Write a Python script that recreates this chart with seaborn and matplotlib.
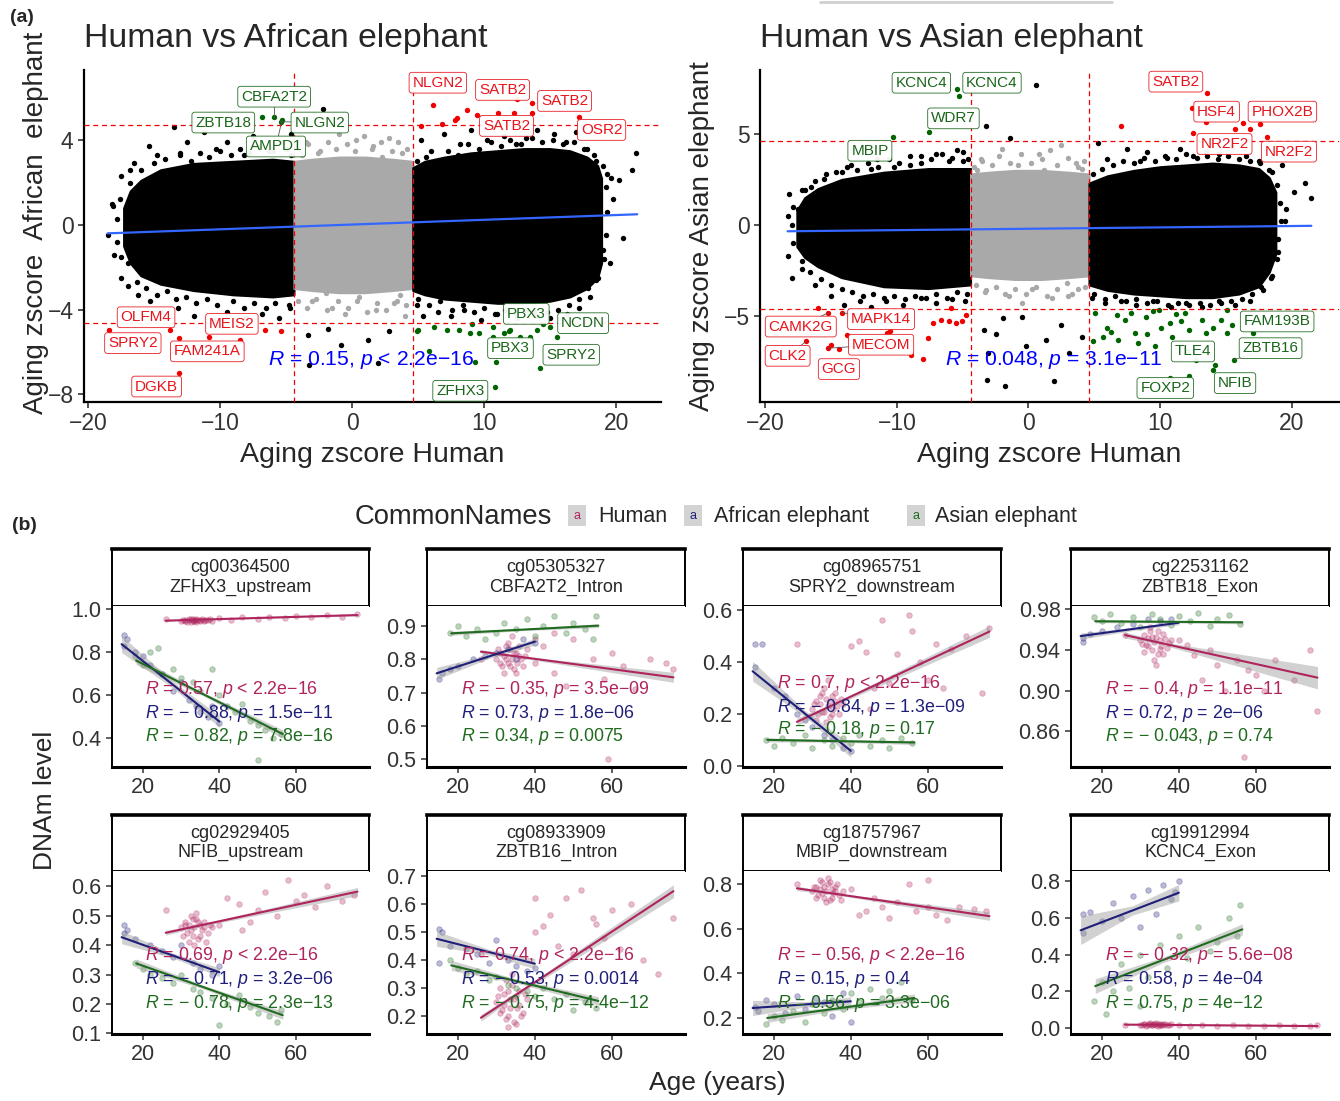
import matplotlib
matplotlib.use("Agg")
import matplotlib.pyplot as plt
import seaborn as sns
import numpy as np
from matplotlib.patches import Rectangle
from matplotlib.lines import Line2D

sns.set_theme(style="ticks")
plt.rcParams['font.family'] = ['Liberation Sans', 'DejaVu Sans']
plt.rcParams['mathtext.fontset'] = 'custom'
plt.rcParams['mathtext.rm'] = 'Liberation Sans'
plt.rcParams['mathtext.it'] = 'Liberation Sans:italic'
plt.rcParams['axes.unicode_minus'] = True

# ---------------- DATA: panel (a) ----------------
# dense clouds (envelopes of the solid regions)
af_left_x = [-17.3, -16.8, -16, -14.5, -12, -9, -6, -4.4]
af_left_hi = [0.8, 1.6, 2.1, 2.6, 2.9, 3.0, 3.1, 3.0]
af_left_lo = [-1.0, -1.8, -2.4, -2.8, -3.1, -3.3, -3.4, -3.3]
af_mid_x = [-4.4, -3, -1, 1, 3, 4.6]
af_mid_hi = [3.0, 3.1, 3.2, 3.2, 3.1, 3.0]
af_mid_lo = [-3.0, -3.1, -3.2, -3.2, -3.1, -3.0]
af_right_x = [4.6, 5.5, 7, 9, 11, 13, 15, 16.5, 17.8, 18.6, 18.9]
af_right_hi = [2.7, 3.0, 3.2, 3.4, 3.5, 3.6, 3.6, 3.5, 3.2, 2.8, 2.2]
af_right_lo = [-3.1, -3.3, -3.5, -3.6, -3.7, -3.7, -3.6, -3.4, -3.0, -2.5, -1.8]

af_black_x = [-15.4, -14.8, -13.5, -12.5, -11.2, -10.3, -9.5, -8.2, -7.5, -6.3, -5.2, -4.6, -17.5, -16.8,
              -18.2, -18.5, -18.0, -17.5, -16.2, -15.3, -14.5, -13.2, -12.0, -10.5, -9.5, -8.0, -6.8, -5.5,
              -4.7, -2.2, -3.3, -1.8, -0.8, 1.2, 2.8, 2.0, -3.25,
              5.2, 6.0, 7.0, 8.2, 9.0, 10.2, 11.5, 12.4, 13.2, 14.0, 15.3, 16.2, 17.0, 17.8, 18.5, 19.3,
              20.2, 21.5, 21.2, 19.8, 20.5, 19.0, 18.6, 18.0, 17.2, 16.3, 15.0, 13.8, 12.5, 11.0, 9.8,
              8.5, 7.5, 6.5, 5.4, 4.9, -16.5, -13.0, -17.0, 18.8, 19.5]
af_black_y = [3.7, 3.3, 4.6, 3.9, 4.4, 3.6, 3.9, 3.3, 4.2, 3.5, 3.9, 4.3, 2.3, 2.6,
              1.0, -0.5, -1.4, -2.5, -3.3, -3.6, -4.1, -3.9, -4.3, -4.5, -4.1, -4.4, -4.2, -4.4,
              -3.9, 5.45, -5.2, -4.9, -5.66, -5.42, -5.03, -6.5, -6.6,
              4.0, 3.5, 4.3, 3.8, 4.5, 4.0, 4.2, 3.8, 4.1, 4.5, 4.3, 3.9, 4.4, 3.6, 3.0, 2.4,
              2.1, 3.4, 2.6, 1.2, -0.6, -1.2, -2.5, -3.4, -3.9, -4.2, -4.4, -4.1, -4.4, -4.2, -4.5,
              -4.0, -4.3, -4.1, -4.3, -3.8, 2.9, 3.4, -2.9, 0.5, -1.8]
af_edge_x = [-16.8, -16.0, -15.0, -14.2, -13.0, -12.2, -11.5, -10.8, -10.0, -9.2, -8.5, -7.8, -7.0, -6.0, -5.0,
             -4.6, -17.0, -16.3, -15.6, -14.8, -14.0, -13.3, -12.6, -11.8, -11.0, -10.2, -9.0, -8.2, -7.4,
             -6.5, -5.8, -4.8, -17.6, -17.8, -17.8, -17.5, -18.1,
             4.9, 5.6, 6.5, 7.3, 8.0, 8.8, 9.6, 10.5, 11.3, 12.0, 12.8, 13.6, 14.4, 15.2, 16.0, 16.8, 17.6,
             18.3, 5.0, 5.8, 6.7, 7.6, 8.4, 9.2, 10.0, 10.8, 11.6, 12.4, 13.2, 14.0, 14.8, 15.6, 16.4, 17.2,
             17.9, 18.5, 19.0, 19.2, 19.3, 19.2, 19.1, 19.6]
af_edge_y = [2.0, 2.6, 2.9, 3.1, 3.3, 3.0, 3.4, 3.2, 3.5, 3.3, 3.6, 3.4, 3.7, 3.5, 3.6,
             3.3, -1.8, -2.7, -3.0, -3.3, -3.1, -3.5, -3.4, -3.7, -3.5, -3.8, -3.6, -3.9, -3.7,
             -3.9, -3.7, -3.8, 1.2, 0.3, -0.8, -1.5, 0.9,
             3.0, 3.2, 3.0, 3.5, 3.3, 3.8, 3.6, 3.9, 3.7, 4.0, 3.8, 4.1, 3.9, 4.0, 3.8, 3.9, 3.6,
             3.3, -3.5, -3.8, -3.6, -4.0, -3.8, -4.1, -3.9, -4.2, -4.0, -4.2, -4.0, -4.3, -4.1, -4.0, -3.8,
             -3.5, -3.0, -2.6, 2.8, 1.8, 0.6, -0.5, -1.6, 2.2]
af_gray_x = [-3.5, -2.4, -1.0, 0.3, 1.5, 2.8, 3.8, -3.0, -1.5, 0.5, 1.8, 3.2, 4.0, -0.5, 2.3, -2.0, -3.8, 3.6,
             -4.0, -3.3, -2.6, -1.8, -1.2, -0.4, 0.2, 0.9, 1.6, 2.2, 3.0, 3.5, 4.2,
             -4.1, -3.4, -2.7, -1.9, -1.1, -0.3, 0.4, 1.1, 1.9, 2.6, 3.4, 4.1]
af_gray_y = [3.9, 3.5, 4.3, 4.0, 3.6, 4.1, 3.4, -3.6, -3.9, -3.4, -4.0, -3.7, -4.3, -4.2, 3.2, -3.2, 3.3, -3.3,
             3.5, 3.8, 3.4, 3.9, 3.6, 3.8, 3.5, 4.2, 3.7, 3.9, 3.5, 3.9, 3.6,
             -3.6, -3.9, -3.5, -4.0, -3.6, -3.9, -3.6, -4.1, -3.7, -4.0, -3.6, -3.8]
af_red_x = [6.1, 5.2, 6.8, 7.8, 7.97, 8.7, 9.5, 11.05, 12.3, 12.5, 13.6, 13.6, 17.2,
            -18.4, -13.8, -13.1, -10.8, -8.5, -6.6, -5.4, -13.1]
af_red_y = [5.64, 4.69, 4.76, 4.95, 5.03, 5.42, 5.19, 5.27, 5.27, 5.93, 5.74, 5.27, 5.11,
            -4.95, -4.95, -5.35, -5.27, -5.42, -4.95, -5.03, -7.0]
af_green_x = [-6.8, -5.9, -5.4, -5.3,
              4.9, 5.0, 6.2, 7.2, 8.1, 8.9, 9.1, 9.6, 10.7, 10.7, 11.5, 11.9, 12.0, 12.7, 13.5, 14.0,
              14.5, 15.0, 15.5, 5.85, 9.3, 10.9, 14.2, 10.8]
af_green_y = [5.11, 5.11, 4.87, 4.95,
              -5.03, -4.95, -4.8, -4.95, -4.95, -5.1, -4.7, -5.1, -4.8, -5.27, -5.1, -5.03, -4.95, -5.27,
              -5.27, -4.95, -4.7, -4.8, -5.27, -5.97, -6.45, -6.45, -6.76, -7.67]
af_label_names = ["NLGN2", "SATB2", "SATB2", "SATB2", "OSR2", "CBFA2T2", "ZBTB18", "NLGN2", "AMPD1",
                  "OLFM4", "SPRY2", "MEIS2", "FAM241A", "DGKB", "PBX3", "NCDN", "PBX3", "SPRY2", "ZFHX3"]
af_label_x = [6.5, 11.4, 16.1, 11.7, 18.9, -5.9, -9.75, -2.44, -5.76, -15.6, -16.6, -9.1, -10.96, -14.8,
              13.2, 17.5, 12.0, 16.6, 8.2]
af_label_y = [6.71, 6.37, 5.85, 4.67, 4.48, 6.05, 4.83, 4.83, 3.7, -4.36, -5.58, -4.67, -5.97, -7.63,
              -4.2, -4.64, -5.82, -6.13, -7.83]
af_label_kind = ["up"] * 5 + ["down"] * 4 + ["up"] * 5 + ["down"] * 5
af_seg = [(-5.76, 3.7, -5.3, 4.95), (-5.9, 6.05, -5.9, 5.11), (-2.44, 4.83, -5.4, 4.87)]
af_fit_x = [-18.5, 21.6]
af_fit_y = [-0.40, 0.50]
af_stat = "$\\mathit{R}$ = 0.15, $\\mathit{p}$ < 2.2e\u221216"

as_left_x = [-17.6, -17, -16, -14.2, -11, -7.6, -4.4]
as_left_hi = [0.8, 1.5, 2.0, 2.5, 2.9, 3.1, 3.1]
as_left_lo = [-1.2, -1.8, -2.3, -2.9, -3.4, -3.5, -3.3]
as_mid_x = [-4.4, -3, -1, 1, 3, 4.6]
as_mid_hi = [2.8, 2.9, 3.0, 3.0, 2.9, 2.8]
as_mid_lo = [-2.8, -2.9, -3.0, -3.0, -2.9, -2.8]
as_right_x = [4.6, 6, 8, 10, 12, 14, 16, 17.5, 18.3, 18.8]
as_right_hi = [2.3, 2.7, 3.0, 3.2, 3.3, 3.4, 3.3, 3.1, 2.6, 1.8]
as_right_lo = [-3.3, -3.6, -3.8, -3.9, -4.0, -4.0, -3.8, -3.4, -2.6, -1.6]
as_black_x = [-15.5, -14.2, -13.5, -12, -11.5, -10.2, -9.0, -8.2, -7.0, -6.0, -5.0, -4.6, -17.2, -18.2,
              -18.3, -18.0, -17.2, -16.2, -15.0, -14.0, -12.8, -12.0, -10.8, -9.5, -8.2, -7.0, -5.8, -4.8,
              -16.5, -0.5, -1.95, -3.4, -3.16, -1.8, 1.95, -0.16, 1.3, 3.1, -3.1, 4.07, 0.55, -3.26, -1.4,
              -5.4, 2.5, -2.5,
              5.3, 6.0, 7.5, 8.5, 9.0, 10.5, 11.5, 12.5, 13.5, 14.5, 15.5, 16.5, 17.5, 18.5, 19.3, 20.2,
              21.0, 21.5, 19.5, 19.0, 18.5, 17.8, 16.8, 15.7, 14.5, 13.2, 12.0, 10.8, 9.5, 8.2, 7.0, 5.8,
              4.8, 18.8, -17.5]
as_black_y = [2.5, 2.9, 3.3, 3.1, 3.6, 3.2, 3.8, 3.4, 3.9, 3.5, 4.0, 3.6, 1.9, 1.7,
              -1.7, -2.9, -2.4, -3.3, -3.9, -4.4, -4.2, -4.5, -4.2, -4.4, -4.0, -4.3, -4.1, -4.2,
              2.1, -5.04, -5.13, -5.77, -8.52, -8.88, -8.61, -6.68, -6.32, -7.05, -7.05, -6.14, 7.69, 5.44,
              4.76, 4.1, -5.5, -6.0,
              4.5, 3.6, 4.2, 3.5, 4.0, 3.7, 4.2, 3.8, 4.0, 3.9, 4.3, 3.8, 3.5, 2.9, 3.3, 1.8,
              2.3, 1.5, 0.2, -1.5, -2.8, -3.6, -4.2, -4.4, -4.2, -4.5, -4.3, -4.5, -4.2, -4.4, -4.2, -4.3,
              -4.0, -0.8, 0.9]
as_edge_x = [-17.0, -16.2, -15.4, -14.6, -13.8, -13.0, -12.2, -11.4, -10.6, -9.8, -9.0, -8.2, -7.4, -6.6, -5.8,
             -5.0, -17.2, -16.6, -15.8, -15.0, -14.2, -13.4, -12.6, -11.8, -11.0, -10.2, -9.4, -8.6, -7.8,
             -7.0, -6.2, -5.4, -4.7, -17.9, -18.0, -17.9, -18.3,
             4.9, 5.6, 6.4, 7.2, 8.0, 8.8, 9.6, 10.4, 11.2, 12.0, 12.8, 13.6, 14.4, 15.2, 16.0, 16.8, 17.6,
             18.3, 5.0, 5.8, 6.6, 7.4, 8.2, 9.0, 9.8, 10.6, 11.4, 12.2, 13.0, 13.8, 14.6, 15.4, 16.2, 17.0,
             17.7, 18.4, 18.9, 19.1, 19.2, 19.0, 18.9, 19.6]
as_edge_y = [1.9, 2.4, 2.8, 2.9, 3.2, 3.0, 3.4, 3.2, 3.6, 3.4, 3.3, 3.8, 3.6, 3.9, 3.7,
             3.5, -2.0, -2.6, -3.0, -3.3, -3.5, -3.7, -3.9, -3.8, -4.0, -3.9, -4.1, -3.9, -4.0,
             -3.8, -4.0, -3.7, -3.8, 1.0, 0.0, -1.0, 0.5,
             2.8, 3.1, 3.3, 3.5, 3.4, 3.7, 3.5, 3.8, 3.6, 3.9, 3.7, 3.8, 3.6, 3.8, 3.6, 3.5, 3.4,
             3.0, -3.8, -4.1, -3.9, -4.2, -4.1, -4.3, -4.2, -4.4, -4.3, -4.4, -4.3, -4.4, -4.3, -4.2, -4.1,
             -3.8, -3.4, -2.9, 2.2, 1.2, 0.2, -0.8, -1.9, 0.9]
as_gray_x = [-3.5, -2.0, -0.8, 0.8, 2.5, 3.8, -3.2, -1.5, 0.3, 1.8, 3.3, -0.5, 1.2, 2.9, -3.9, 4.1,
             -4.1, -3.6, -2.8, -2.2, -1.4, -0.6, 0.2, 1.0, 1.6, 2.2, 3.0, 3.6, 4.2,
             -4.0, -3.3, -2.5, -1.8, -1.0, -0.2, 0.6, 1.4, 2.2, 3.0, 3.8, 4.3]
as_gray_y = [3.5, 4.2, 3.3, 3.9, 4.4, 3.2, -3.6, -3.9, -3.5, -4.0, -3.8, -4.3, 3.0, -3.2, 3.0, 3.1,
             3.2, 3.6, 3.3, 3.8, 3.4, 3.9, 3.4, 3.6, 4.1, 3.3, 3.7, 3.4, 3.5,
             -3.3, -3.7, -3.4, -3.8, -3.5, -3.8, -3.4, -3.9, -3.5, -3.9, -3.5, -3.4]
as_red_x = [7.07, 12.5, 12.4, 13.6, 13.5, 15.7, 16.3, 16.8, 17.6, 18.1,
            -15.2, -14.2, -16.0, -16.9, -15.2, -14.4, -13.8, -10.75, -10.5, -8.96, -7.98, -7.65, -7.26,
            -6.68, -6.03, -5.54, -5.05, -4.72, -5.9, -15.0]
as_red_y = [5.44, 5.07, 6.41, 7.27, 5.68, 5.26, 5.59, 5.26, 5.55, 4.85,
            -4.82, -4.82, -4.58, -6.41, -6.78, -6.83, -6.04, -5.92, -5.86, -7.14, -7.38, -6.23, -5.40,
            -5.22, -5.31, -5.40, -5.31, -4.95, -4.58, -6.6]
as_green_x = [-5.44, -5.31, -7.56, -10.3,
              5.05, 4.9, 5.7, 6.0, 6.7, 6.8, 7.3, 7.8, 8.1, 8.3, 8.96, 9.45, 9.6, 9.9, 10.1, 10.75, 10.9,
              11.6, 11.9, 12.05, 12.2, 12.7, 12.2, 13.2, 13.5, 14.0, 14.2, 14.0, 14.65, 15.1, 15.5, 15.6,
              17.1, 15.1, 10.75, 6.3, 9.0, 11.2]
as_green_y = [7.45, 7.09, 5.09, 4.82,
              -4.85, -6.41, -6.14, -5.68, -4.95, -6.32, -5.22, -4.85, -5.95, -6.5, -5.04, -4.76, -6.68,
              -4.7, -5.68, -5.40, -6.14, -5.31, -4.85, -6.96, -5.77, -7.42, -8.3, -5.22, -5.95, -5.68,
              -7.69, -7.97, -5.22, -4.67, -5.49, -7.42, -5.95, -5.95, -8.42, -5.9, -6.0, -4.9]
as_label_names = ["SATB2", "HSF4", "PHOX2B", "NR2F2", "NR2F2", "KCNC4", "KCNC4", "WDR7", "MBIP",
                  "CAMK2G", "MAPK14", "CLK2", "MECOM", "GCG", "FAM193B", "ZBTB16", "TLE4", "FOXP2", "NFIB"]
as_label_x = [11.2, 14.3, 19.3, 14.9, 19.8, -8.14, -2.77, -5.7, -12.05, -17.3, -11.2, -18.3, -11.2, -14.4,
              18.9, 18.4, 12.5, 10.4, 15.7]
as_label_y = [7.88, 6.23, 6.23, 4.45, 4.03, 7.82, 7.82, 5.86, 4.08, -5.59, -5.18, -7.2, -6.59, -7.93,
              -5.31, -6.78, -6.96, -8.97, -8.7]
as_label_kind = ["up"] * 5 + ["down"] * 4 + ["up"] * 5 + ["down"] * 5
as_seg = [(-18.3, -7.2, -16.9, -6.41), (-11.2, -6.59, -15.2, -6.78), (-11.2, -5.18, -14.2, -4.82),
          (-17.3, -5.59, -15.2, -4.82), (18.4, -6.78, 15.6, -7.42), (12.5, -6.96, 12.7, -7.42)]
as_fit_x = [-18.3, 21.5]
as_fit_y = [-0.35, -0.05]
as_stat = "$\\mathit{R}$ = 0.048, $\\mathit{p}$ = 3.1e\u221211"

# ---------------- DATA: panel (b) ----------------
species = ["Human", "African elephant", "Asian elephant"]
species_colors = ["#B0245E", "#1F1F7A", "#1F6B1F"]
facet_titles = ["cg00364500\nZFHX3_upstream", "cg05305327\nCBFA2T2_Intron", "cg08965751\nSPRY2_downstream",
                "cg22531162\nZBTB18_Exon", "cg02929405\nNFIB_upstream", "cg08933909\nZBTB16_Intron",
                "cg18757967\nMBIP_downstream", "cg19912994\nKCNC4_Exon"]
facet_ylims = [(0.267, 1.014), (0.477, 0.96), (-0.002, 0.615), (0.825, 0.983),
               (0.098, 0.652), (0.136, 0.718), (0.127, 0.86), (-0.031, 0.854)]
facet_yticks = [[0.4, 0.6, 0.8, 1.0], [0.5, 0.6, 0.7, 0.8, 0.9], [0.0, 0.2, 0.4, 0.6], [0.86, 0.90, 0.94, 0.98],
                [0.1, 0.2, 0.3, 0.4, 0.5, 0.6], [0.2, 0.3, 0.4, 0.5, 0.6, 0.7], [0.2, 0.4, 0.6, 0.8],
                [0.0, 0.2, 0.4, 0.6, 0.8]]
facet_ytick_labels = [["0.4", "0.6", "0.8", "1.0"], ["0.5", "0.6", "0.7", "0.8", "0.9"], ["0.0", "0.2", "0.4", "0.6"],
                      ["0.86", "0.90", "0.94", "0.98"], ["0.1", "0.2", "0.3", "0.4", "0.5", "0.6"],
                      ["0.2", "0.3", "0.4", "0.5", "0.6", "0.7"], ["0.2", "0.4", "0.6", "0.8"],
                      ["0.0", "0.2", "0.4", "0.6", "0.8"]]
age_ticks = [20, 40, 60]

# fitted lines (age range per species, values at both ends per facet)
fit_age_start = [26, 14.5, 18.3]
fit_age_end = [76, 40, 56.5]
band_mid_age = [36, 28, 36]
human_fit_start = [0.946, 0.823, 0.171, 0.9545, 0.442, 0.194, 0.782, 0.020]
human_fit_end = [0.972, 0.746, 0.517, 0.9127, 0.582, 0.646, 0.657, 0.012]
african_fit_start = [0.837, 0.758, 0.365, 0.9535, 0.427, 0.476, 0.244, 0.532]
african_fit_end = [0.478, 0.853, 0.060, 0.9666, 0.308, 0.387, 0.274, 0.736]
asian_fit_start = [0.761, 0.878, 0.102, 0.968, 0.338, 0.381, 0.199, 0.229]
asian_fit_end = [0.420, 0.901, 0.092, 0.967, 0.162, 0.254, 0.289, 0.537]
# confidence band half-widths (start, middle, end)
human_band = [(0.003, 0.002, 0.004), (0.006, 0.003, 0.015), (0.015, 0.006, 0.022), (0.003, 0.0015, 0.011),
              (0.008, 0.004, 0.014), (0.012, 0.006, 0.023), (0.01, 0.004, 0.019), (0.003, 0.002, 0.003)]
african_band = [(0.039, 0.015, 0.027), (0.018, 0.006, 0.01), (0.038, 0.012, 0.025), (0.003, 0.0015, 0.002),
                (0.022, 0.008, 0.015), (0.027, 0.01, 0.018), (0.034, 0.012, 0.02), (0.077, 0.025, 0.045)]
asian_band = [(0.019, 0.008, 0.02), (0.006, 0.003, 0.006), (0.008, 0.004, 0.008), (0.0015, 0.001, 0.0015),
              (0.015, 0.006, 0.014), (0.018, 0.007, 0.015), (0.02, 0.008, 0.018), (0.04, 0.015, 0.03)]

human_R = ["0.57", "\u2212 0.35", "0.7", "\u2212 0.4", "0.69", "0.74", "\u2212 0.56", "\u2212 0.32"]
human_p = ["< 2.2e\u221216", "= 3.5e\u221209", "< 2.2e\u221216", "= 1.1e\u221211", "< 2.2e\u221216",
           "< 2.2e\u221216", "< 2.2e\u221216", "= 5.6e\u221208"]
african_R = ["\u2212 0.88", "0.73", "\u2212 0.84", "0.72", "\u2212 0.71", "\u2212 0.53", "0.15", "0.58"]
african_p = ["= 1.5e\u221211", "= 1.8e\u221206", "= 1.3e\u221209", "= 2e\u221206", "= 3.2e\u221206", "= 0.0014",
             "= 0.4", "= 4e\u221204"]
asian_R = ["\u2212 0.82", "0.34", "\u2212 0.18", "\u2212 0.043", "\u2212 0.78", "\u2212 0.75", "0.56", "0.75"]
asian_p = ["= 7.8e\u221216", "= 0.0075", "= 0.17", "= 0.74", "= 2.3e\u221213", "= 4.4e\u221212",
           "= 3.3e\u221206", "= 4e\u221212"]

# sample points (age, DNAm) per facet and species
ZFHX3_human = [(30, .945), (31, .95), (31.5, .94), (32, .948), (32.5, .952), (33, .944), (33.5, .95), (34, .955),
               (34, .942), (35, .948), (35.5, .953), (36, .946), (37, .95), (38, .944), (26, .955), (40, .958),
               (43, .95), (46, .962), (50, .955), (53, .965), (57, .96), (60, .968), (64, .962), (68, .97),
               (72, .965), (76, .975), (30.5, .948), (31, .943), (32, .955), (32.5, .941), (33, .952),
               (33.5, .946), (34.5, .949), (35, .944), (36, .951), (36.5, .947), (37.5, .953), (34, .948)]
ZFHX3_african = [(15, .88), (15, .83), (16, .86), (18, .80), (20, .78), (22, .74), (25, .70), (28, .62), (30, .66),
                 (32, .58), (34, .55), (35, .52), (37, .50), (38, .55), (40, .47)]
ZFHX3_asian = [(18, .78), (20, .74), (22, .80), (24, .82), (25, .70), (28, .72), (30, .68), (33, .66), (35, .62),
               (38, .72), (40, .60), (42, .55), (44, .52), (46, .56), (48, .48), (50, .46), (52, .44), (54, .40),
               (50, .30), (56, .42)]
CBFA2T2_human = [(30, .80), (31, .82), (31.5, .78), (32, .81), (32.5, .84), (33, .79), (33.5, .83), (34, .80),
                 (34.5, .77), (35, .82), (35.5, .79), (36, .81), (37, .78), (38, .83), (26, .80), (40, .79),
                 (42, .84), (45, .76), (48, .72), (50, .86), (59, .50), (55, .80), (58, .74), (60, .82), (63, .78),
                 (66, .71), (70, .80), (74, .79), (76, .77), (45, .88), (40, .86), (30.5, .83), (31, .79),
                 (32, .76), (32.5, .80), (33, .85), (33.5, .78), (34.5, .82), (35, .76), (36, .84), (36.5, .80),
                 (37.5, .81), (34, .87)]
CBFA2T2_african = [(15, .74), (16, .76), (18, .77), (20, .78), (24, .80), (27, .81), (30, .82), (33, .83),
                   (35, .80), (37, .86), (40, .85)]
CBFA2T2_asian = [(18, .88), (20, .90), (22, .87), (25, .89), (27, .86), (30, .88), (32, .91), (35, .89), (38, .92),
                 (40, .87), (42, .90), (45, .93), (48, .88), (50, .91), (53, .89), (56, .93), (55, .86)]
SPRY2_human = [(30, .22), (31, .25), (31.5, .20), (32, .24), (32.5, .28), (33, .21), (33.5, .26), (34, .23),
               (34.5, .19), (35, .27), (35.5, .22), (36, .25), (37, .20), (38, .24), (26, .47), (40, .46),
               (42, .48), (44, .44), (46, .30), (48, .56), (50, .32), (52, .43), (55, .58), (56, .52), (58, .40),
               (60, .33), (62, .47), (64, .30), (66, .45), (70, .50), (74, .28), (76, .53), (45, .22),
               (30.5, .24), (31, .18), (32, .27), (32.5, .21), (33, .30), (33.5, .17), (34.5, .25), (35, .20),
               (36, .28), (36.5, .23), (37.5, .26), (34, .33)]
SPRY2_african = [(15, .47), (15, .38), (17, .47), (20, .30), (23, .27), (26, .20), (28, .18), (30, .15),
                 (33, .12), (35, .10), (38, .07), (40, .06)]
SPRY2_asian = [(18, .10), (20, .08), (22, .11), (25, .09), (28, .12), (30, .07), (33, .10), (35, .08), (38, .11),
               (40, .09), (42, .12), (45, .08), (48, .10), (50, .07), (53, .11), (56, .09)]
ZBTB18_human = [(30, .950), (31, .955), (31.5, .945), (32, .952), (32.5, .958), (33, .940), (33.5, .948),
                (34, .953), (34.5, .936), (35, .950), (35.5, .944), (36, .956), (37, .942), (38, .95),
                (26, .955), (40, .95), (42, .945), (44, .935), (46, .91), (48, .94), (50, .925), (52, .90),
                (55, .93), (57, .835), (58, .92), (60, .915), (62, .90), (65, .93), (70, .91), (74, .94), (76, .88),
                (30.5, .946), (31, .938), (32, .944), (32.5, .962), (33, .953), (33.5, .930), (34.5, .958),
                (35, .941), (36, .936), (36.5, .951), (37.5, .947), (34, .925)]
ZBTB18_african = [(15, .952), (15, .948), (17, .956), (20, .958), (24, .962), (28, .965), (32, .97), (35, .968),
                  (38, .97)]
ZBTB18_asian = [(18, .972), (20, .968), (22, .975), (25, .966), (28, .972), (30, .962), (33, .975), (35, .970),
                (38, .964), (40, .973), (43, .968), (45, .976), (48, .963), (50, .970), (53, .974), (56, .965)]
NFIB_human = [(30, .46), (31, .48), (31.5, .44), (32, .47), (32.5, .50), (33, .43), (33.5, .46), (34, .49),
              (34.5, .42), (35, .47), (35.5, .45), (36, .48), (37, .44), (38, .46), (26, .52), (40, .47),
              (42, .56), (45, .54), (48, .48), (50, .52), (52, .58), (55, .50), (58, .62), (60, .55), (62, .57),
              (65, .53), (68, .60), (72, .55), (75, .57), (46, .45), (30.5, .43), (31, .47), (32, .41),
              (32.5, .45), (33, .49), (33.5, .40), (34.5, .48), (35, .43), (36, .46), (36.5, .41), (37.5, .47),
              (34, .51)]
NFIB_african = [(15, .47), (15, .44), (16, .45), (18, .42), (22, .40), (25, .38), (28, .36), (30, .40), (33, .34),
                (35, .32), (38, .30), (40, .33)]
NFIB_asian = [(18, .34), (20, .32), (22, .30), (25, .29), (28, .27), (30, .30), (33, .25), (35, .24), (38, .22),
              (40, .13), (42, .20), (45, .23), (48, .19), (50, .17), (53, .16), (55, .14), (56, .18)]
ZBTB16_human = [(30, .25), (31, .30), (31.5, .22), (32, .28), (32.5, .33), (33, .20), (33.5, .26), (34, .31),
                (34.5, .18), (35, .27), (35.5, .23), (36, .29), (37, .21), (38, .26), (33, .16), (26, .42),
                (40, .62), (42, .52), (44, .56), (46, .45), (48, .62), (50, .42), (52, .65), (55, .55), (56, .53),
                (58, .48), (60, .58), (62, .44), (65, .60), (68, .40), (72, .35), (76, .55), (40, .50),
                (30.5, .27), (31, .21), (32, .24), (32.5, .19), (33, .29), (33.5, .23), (34.5, .26), (35, .17),
                (36, .24), (36.5, .20), (37.5, .28), (34, .35)]
ZBTB16_african = [(15, .51), (15, .39), (16, .50), (18, .45), (22, .44), (25, .42), (28, .39), (30, .47),
                  (33, .40), (35, .38), (38, .36), (40, .37)]
ZBTB16_asian = [(18, .40), (20, .37), (22, .35), (25, .36), (28, .33), (30, .34), (33, .31), (35, .30), (38, .29),
                (40, .27), (42, .30), (45, .26), (48, .28), (50, .22), (53, .25), (56, .23)]
MBIP_human = [(30, .77), (31, .79), (31.5, .75), (32, .78), (32.5, .81), (33, .74), (33.5, .77), (34, .80),
              (34.5, .73), (35, .78), (35.5, .76), (36, .79), (37, .75), (38, .77), (26, .80), (40, .78),
              (42, .66), (44, .68), (46, .74), (48, .70), (50, .65), (52, .72), (55, .80), (57, .68), (60, .70),
              (62, .66), (65, .64), (68, .70), (72, .69), (75, .68), (60, .82), (30.5, .79), (31, .74), (32, .82),
              (32.5, .76), (33, .79), (33.5, .72), (34.5, .81), (35, .74), (36, .77), (36.5, .80), (37.5, .73),
              (34, .83)]
MBIP_african = [(15, .25), (16, .23), (18, .28), (20, .26), (23, .22), (26, .30), (28, .24), (31, .29), (33, .27),
                (35, .21), (38, .31), (40, .18)]
MBIP_asian = [(18, .17), (20, .21), (22, .19), (25, .23), (28, .18), (30, .26), (33, .22), (35, .28), (38, .24),
              (40, .31), (42, .27), (45, .33), (48, .29), (50, .32), (53, .36), (56, .28)]
KCNC4_human = [(30, .02), (31, .025), (31.5, .015), (32, .022), (32.5, .028), (33, .018), (33.5, .024), (34, .02),
               (34.5, .014), (35, .026), (35.5, .02), (36, .023), (37, .017), (38, .021), (26, .02), (40, .02),
               (43, .015), (46, .018), (50, .012), (54, .02), (58, .015), (62, .01), (66, .018), (70, .012),
               (74, .015), (76, .02), (30.5, .018), (31, .022), (32, .016), (32.5, .024), (33, .02), (33.5, .026),
               (34.5, .022), (35, .016), (36, .019), (36.5, .025), (37.5, .02), (34, .028)]
KCNC4_african = [(15, .52), (15, .62), (17, .63), (20, .58), (23, .68), (25, .60), (28, .72), (30, .55), (32, .75),
                 (34, .62), (36, .78), (38, .70), (40, .80), (39, .74)]
KCNC4_asian = [(18, .15), (20, .25), (21, .08), (23, .20), (25, .35), (27, .22), (30, .40), (32, .28), (35, .45),
               (37, .33), (40, .50), (42, .38), (45, .55), (48, .42), (50, .47), (53, .60), (56, .67), (55, .50),
               (30, .12)]

facet_points = [(ZFHX3_human, ZFHX3_african, ZFHX3_asian), (CBFA2T2_human, CBFA2T2_african, CBFA2T2_asian),
                (SPRY2_human, SPRY2_african, SPRY2_asian), (ZBTB18_human, ZBTB18_african, ZBTB18_asian),
                (NFIB_human, NFIB_african, NFIB_asian), (ZBTB16_human, ZBTB16_african, ZBTB16_asian),
                (MBIP_human, MBIP_african, MBIP_asian), (KCNC4_human, KCNC4_african, KCNC4_asian)]

# ---------------- FIGURE ----------------
W, H = 1340, 1101
fig = plt.figure(figsize=(W / 100, H / 100), dpi=100)


def ax_px(l, t, r, b):
    return fig.add_axes([l / W, 1 - b / H, (r - l) / W, (b - t) / H])


RED = "#F00000"
LBL_RED = "#E8141C"
LBL_GREEN = "#1A661A"


def draw_top(ax, clouds, bx, by, ex, ey, gx, gy, rx, ry, gnx, gny, lnames, lx, ly, lkind, segs,
             vthr, hthr, fx, fy, stat, stat_xy, xlim, ylim, yticks, title, ylabel, ylab_x, ylab_y):
    for (xs, hi, lo), col in clouds:
        ax.fill_between(xs, lo, hi, color=col, lw=1.5, edgecolor=col, zorder=1)
    sns.scatterplot(x=gx, y=gy, color="#A9A9A9", s=15, linewidth=0, ax=ax, zorder=2)
    sns.scatterplot(x=list(bx) + list(ex), y=list(by) + list(ey), color="black", s=15, linewidth=0, ax=ax,
                    zorder=2)
    sns.scatterplot(x=rx, y=ry, color=RED, s=15, linewidth=0, ax=ax, zorder=3)
    sns.scatterplot(x=gnx, y=gny, color="#006400", s=15, linewidth=0, ax=ax, zorder=3)
    for v in vthr:
        ax.axvline(v, color=RED, ls=(0, (4, 3)), lw=0.9, zorder=4)
    for h in hthr:
        ax.axhline(h, color=RED, ls=(0, (4, 3)), lw=0.9, zorder=4)
    sns.lineplot(x=fx, y=fy, color="#3366FF", lw=1.6, ax=ax, zorder=4)
    for (x0, y0, x1, y1) in segs:
        ax.plot([x0, x1], [y0, y1], color="#555555", lw=0.6, zorder=4.5)
    for name, x, y, k in zip(lnames, lx, ly, lkind):
        c = LBL_RED if k == "up" else LBL_GREEN
        ax.text(x, y, name, color=c, fontsize=11, ha="center", va="center", zorder=6,
                bbox=dict(boxstyle="round,pad=0.22,rounding_size=0.18", fc="white", ec=c, lw=0.6, alpha=0.95))
    ax.text(stat_xy[0], stat_xy[1], stat, color="#0000FF", fontsize=15.2, ha="center", va="center", zorder=7)
    ax.set_xlim(*xlim)
    ax.set_ylim(*ylim)
    ax.set_xticks([-20, -10, 0, 10, 20])
    ax.set_yticks(yticks)
    ax.set_xticklabels(["\u221220", "\u221210", "0", "10", "20"])
    ax.set_yticklabels([("\u2212" + str(-t)) if t < 0 else str(t) for t in yticks])
    for s in ["top", "right"]:
        ax.spines[s].set_visible(False)
    for s in ["left", "bottom"]:
        ax.spines[s].set_linewidth(1.6)
        ax.spines[s].set_color("black")
    ax.tick_params(labelsize=16.5, length=4, width=1.2, colors="#333333", labelcolor="#333333")
    ax.set_xlabel("")
    ax.set_ylabel("")
    ax.text(0, 1 + 32 / 332, title, transform=ax.transAxes, fontsize=24.3, ha="left", va="center")
    ax.text(0.5, -53 / 332, "Aging zscore Human", transform=ax.transAxes, fontsize=20.5, ha="center", va="center")
    ax.text(ylab_x, ylab_y, ylabel, transform=ax.transAxes, fontsize=20, ha="center", va="center", rotation=90)


ax1 = ax_px(84, 70, 661, 402)
draw_top(ax1, [((af_left_x, af_left_hi, af_left_lo), "black"), ((af_mid_x, af_mid_hi, af_mid_lo), "#A9A9A9"),
               ((af_right_x, af_right_hi, af_right_lo), "black")],
         af_black_x, af_black_y, af_edge_x, af_edge_y, af_gray_x, af_gray_y, af_red_x, af_red_y,
         af_green_x, af_green_y, af_label_names, af_label_x, af_label_y, af_label_kind, af_seg,
         [-4.4, 4.6], [4.7, -4.65], af_fit_x, af_fit_y, af_stat, (1.46, -6.37),
         (-20.3, 23.4), (-8.36, 7.31), [-8, -4, 0, 4], "Human vs African elephant",
         "Aging zscore  African  elephant", -48 / 577, 0.54)

ax2 = ax_px(760, 70, 1339, 402)
draw_top(ax2, [((as_left_x, as_left_hi, as_left_lo), "black"), ((as_mid_x, as_mid_hi, as_mid_lo), "#A9A9A9"),
               ((as_right_x, as_right_hi, as_right_lo), "black")],
         as_black_x, as_black_y, as_edge_x, as_edge_y, as_gray_x, as_gray_y, as_red_x, as_red_y,
         as_green_x, as_green_y, as_label_names, as_label_x, as_label_y, as_label_kind, as_seg,
         [-4.4, 4.6], [4.6, -4.6], as_fit_x, as_fit_y, as_stat, (1.95, -7.42),
         (-20.4, 23.6), (-9.74, 8.52), [-5, 0, 5], "Human vs Asian elephant",
         "Aging zscore Asian elephant", -58 / 579, 0.5)

# thin grey rule at the very top (artifact in reference)
fig.add_artist(Line2D([820 / W, 1112 / W], [1 - 1.5 / H, 1 - 1.5 / H], color="#CFCFCF", lw=2))

fig.text(10 / W, 1 - 18 / H, "(a)", fontsize=14, fontweight="bold", ha="left", va="center")
fig.text(12 / W, 1 - 525 / H, "(b)", fontsize=14, fontweight="bold", ha="left", va="center")

# ---------------- legend ----------------
fig.text(355 / W, 1 - 517 / H, "CommonNames", fontsize=19.7, ha="left", va="center")
key_cx = [577, 693, 916]
text_x = [598, 714, 935]
for cx, tx, name, col in zip(key_cx, text_x, species, species_colors):
    fig.add_artist(Rectangle(((cx - 9) / W, 1 - 526 / H), 18 / W, 21 / H, color="#D3D3D3", lw=0))
    fig.text(cx / W, 1 - 516 / H, "a", color=col, fontsize=9, ha="center", va="center")
    fig.text(tx / W, 1 - 517 / H, name, fontsize=15.5, ha="left", va="center")

# ---------------- facets ----------------
cols_px = [(112, 369), (427, 685), (743, 1001), (1071, 1329)]
rows_px = [(549, 606, 767), (815, 871, 1034)]
fit_starts = [human_fit_start, african_fit_start, asian_fit_start]
fit_ends = [human_fit_end, african_fit_end, asian_fit_end]
bands = [human_band, african_band, asian_band]
Rs = [human_R, african_R, asian_R]
Ps = [human_p, african_p, asian_p]

for i in range(8):
    r, c = divmod(i, 4)
    l, rr = cols_px[c]
    st, pt, pb = rows_px[r]
    sax = ax_px(l, st, rr, pt)
    sax.set_xticks([])
    sax.set_yticks([])
    sax.set_facecolor("white")
    for s in sax.spines.values():
        s.set_linewidth(1.4)
        s.set_color("black")
        s.set_visible(True)
    sax.spines["top"].set_linewidth(2.6)
    sax.text(0.5, 0.5, facet_titles[i], transform=sax.transAxes, ha="center", va="center",
             fontsize=13, linespacing=1.15)

    ax = ax_px(l, pt, rr, pb)
    for k in range(3):
        pts = facet_points[i][k]
        sns.scatterplot(x=[p[0] for p in pts], y=[p[1] for p in pts], color=species_colors[k], alpha=0.3,
                        s=16, edgecolor=species_colors[k], linewidth=0.6, ax=ax, zorder=2)
    for k in range(3):
        a0, a1, am = fit_age_start[k], fit_age_end[k], band_mid_age[k]
        v0, v1 = fit_starts[k][i], fit_ends[k][i]
        vm = np.interp(am, [a0, a1], [v0, v1])
        w0, wm, w1 = bands[k][i]
        ax.fill_between([a0, am, a1], [v0 - w0, vm - wm, v1 - w1], [v0 + w0, vm + wm, v1 + w1],
                        color="#999999", alpha=0.45, lw=0, zorder=3)
        sns.lineplot(x=[a0, a1], y=[v0, v1], color=species_colors[k], lw=1.5, ax=ax, zorder=4)
    ys = [0.52, 0.371, 0.234] if i == 2 else [0.48, 0.335, 0.19]
    for k in range(3):
        txt = "$\\mathit{R}$ = " + Rs[k][i] + ", $\\mathit{p}$ " + Ps[k][i]
        ax.text(0.13, ys[k], txt, transform=ax.transAxes, color=species_colors[k], fontsize=12.8,
                ha="left", va="center", zorder=6)
    ax.set_xlim(12, 79)
    ax.set_ylim(*facet_ylims[i])
    ax.set_xticks(age_ticks)
    ax.set_yticks(facet_yticks[i])
    ax.set_yticklabels(facet_ytick_labels[i])
    ax.set_xlabel("")
    ax.set_ylabel("")
    for s in ["top", "right"]:
        ax.spines[s].set_visible(False)
    ax.spines["left"].set_linewidth(1.4)
    ax.spines["bottom"].set_linewidth(2.2)
    ax.spines["left"].set_color("black")
    ax.spines["bottom"].set_color("black")
    ax.tick_params(labelsize=15.5, length=4, width=1.1, colors="#333333", labelcolor="#333333")

fig.text(45 / W, 1 - 800 / H, "DNAm level", fontsize=19, rotation=90, ha="center", va="center")
fig.text(717 / W, 1 - 1083 / H, "Age (years)", fontsize=19, ha="center", va="center")

fig.savefig("out.png", dpi=100)
